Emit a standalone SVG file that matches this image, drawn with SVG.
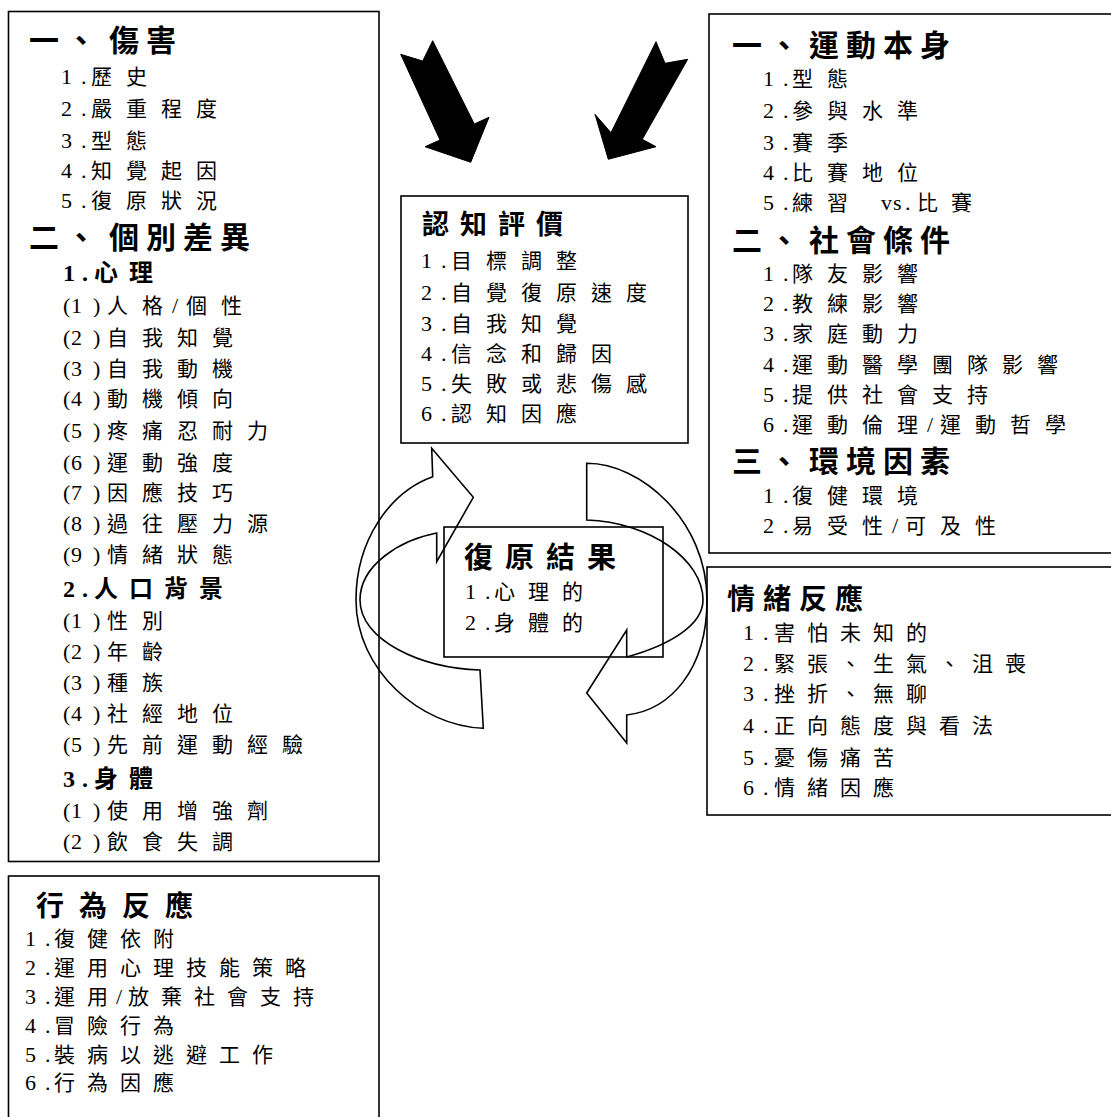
<svg xmlns="http://www.w3.org/2000/svg" width="1111" height="1117" viewBox="0 0 1111 1117">
<style>
.box{fill:#fff;stroke:#000;stroke-width:1.6}
.b{font-family:"Noto Sans CJK TC","Noto Sans CJK JP",sans-serif;font-weight:bold;font-size:30px;letter-spacing:7px}
.h{font-family:"Noto Sans CJK TC","Noto Sans CJK JP",sans-serif;font-weight:bold;font-size:27px;letter-spacing:11px}
.s{font-family:"Noto Sans CJK TC","Noto Sans CJK JP",sans-serif;font-weight:bold;font-size:24px;letter-spacing:11px}
.sn{font-family:"Liberation Serif",serif;font-weight:bold;font-size:24px;letter-spacing:0}
.i{font-family:"Noto Sans CJK TC","Noto Sans CJK JP",sans-serif;font-size:21px;letter-spacing:14px}
.i2{font-family:"Noto Sans CJK TC","Noto Sans CJK JP",sans-serif;font-size:21px;letter-spacing:12px}
.n{font-family:"Liberation Serif",serif;font-size:22px;letter-spacing:0}
.z{letter-spacing:0}
.arrow{fill:#000;stroke:#000;stroke-width:1}
.cyc{fill:none;stroke:#000;stroke-width:1.6;stroke-linejoin:miter}
</style>

<g id="node-injury">
<rect class="box" x="8.5" y="11.5" width="370.5" height="850"/>
<text class="b" y="51"><tspan x="29">一、</tspan><tspan x="109">傷害</tspan></text>
<text class="i" y="84"><tspan class="n" x="61 81">1.</tspan><tspan x="91">歷史</tspan></text>
<text class="i" y="116"><tspan class="n" x="61 81">2.</tspan><tspan x="91">嚴重程度</tspan></text>
<text class="i" y="148"><tspan class="n" x="61 81">3.</tspan><tspan x="91">型態</tspan></text>
<text class="i" y="178"><tspan class="n" x="61 81">4.</tspan><tspan x="91">知覺起因</tspan></text>
<text class="i" y="208"><tspan class="n" x="61 81">5.</tspan><tspan x="91">復原狀況</tspan></text>
<text class="b" y="248"><tspan x="29">二、</tspan><tspan x="109">個別差異</tspan></text>
<text class="s" y="281"><tspan class="sn" x="63 82">1.</tspan><tspan x="94">心理</tspan></text>
<text class="i" y="313"><tspan class="n" x="63 71 93">(1)</tspan><tspan x="107">人</tspan><tspan class="z" x="142">格</tspan><tspan class="n" x="172">/</tspan><tspan x="186">個性</tspan></text>
<text class="i" y="345"><tspan class="n" x="63 71 93">(2)</tspan><tspan x="107">自我知覺</tspan></text>
<text class="i" y="376"><tspan class="n" x="63 71 93">(3)</tspan><tspan x="107">自我動機</tspan></text>
<text class="i" y="406"><tspan class="n" x="63 71 93">(4)</tspan><tspan x="107">動機傾向</tspan></text>
<text class="i" y="438"><tspan class="n" x="63 71 93">(5)</tspan><tspan x="107">疼痛忍耐力</tspan></text>
<text class="i" y="470"><tspan class="n" x="63 71 93">(6)</tspan><tspan x="107">運動強度</tspan></text>
<text class="i" y="500"><tspan class="n" x="63 71 93">(7)</tspan><tspan x="107">因應技巧</tspan></text>
<text class="i" y="531"><tspan class="n" x="63 71 93">(8)</tspan><tspan x="107">過往壓力源</tspan></text>
<text class="i" y="562"><tspan class="n" x="63 71 93">(9)</tspan><tspan x="107">情緒狀態</tspan></text>
<text class="s" y="597"><tspan class="sn" x="63 82">2.</tspan><tspan x="94">人口背景</tspan></text>
<text class="i" y="628"><tspan class="n" x="63 71 93">(1)</tspan><tspan x="107">性別</tspan></text>
<text class="i" y="659"><tspan class="n" x="63 71 93">(2)</tspan><tspan x="107">年齡</tspan></text>
<text class="i" y="690"><tspan class="n" x="63 71 93">(3)</tspan><tspan x="107">種族</tspan></text>
<text class="i" y="721"><tspan class="n" x="63 71 93">(4)</tspan><tspan x="107">社經地位</tspan></text>
<text class="i" y="752"><tspan class="n" x="63 71 93">(5)</tspan><tspan x="107">先前運動經驗</tspan></text>
<text class="s" y="787"><tspan class="sn" x="63 82">3.</tspan><tspan x="94">身體</tspan></text>
<text class="i" y="818"><tspan class="n" x="63 71 93">(1)</tspan><tspan x="107">使用增強劑</tspan></text>
<text class="i" y="849"><tspan class="n" x="63 71 93">(2)</tspan><tspan x="107">飲食失調</tspan></text>
</g>

<g id="node-behavior">
<rect class="box" x="8.5" y="876" width="370.5" height="260"/>
<text class="h" x="36" y="916" style="font-size:28px;letter-spacing:15px">行為反應</text>
<text class="i2" y="946"><tspan class="n" x="25 45">1.</tspan><tspan x="54">復健依附</tspan></text>
<text class="i2" y="975"><tspan class="n" x="25 45">2.</tspan><tspan x="54">運用心理技能策略</tspan></text>
<text class="i2" y="1004"><tspan class="n" x="25 45">3.</tspan><tspan x="54">運</tspan><tspan class="z" x="87">用</tspan><tspan class="n" x="116">/</tspan><tspan x="128">放棄社會支持</tspan></text>
<text class="i2" y="1033"><tspan class="n" x="25 45">4.</tspan><tspan x="54">冒險行為</tspan></text>
<text class="i2" y="1062"><tspan class="n" x="25 45">5.</tspan><tspan x="54">裝病以逃避工作</tspan></text>
<text class="i2" y="1090"><tspan class="n" x="25 45">6.</tspan><tspan x="54">行為因應</tspan></text>
</g>

<g id="node-sport">
<rect class="box" x="709" y="14" width="430" height="539"/>
<text class="b" y="56"><tspan x="732">一、</tspan><tspan x="809">運動本身</tspan></text>
<text class="i" y="86"><tspan class="n" x="763 783">1.</tspan><tspan x="792">型態</tspan></text>
<text class="i" y="118"><tspan class="n" x="763 783">2.</tspan><tspan x="792">參與水準</tspan></text>
<text class="i" y="150"><tspan class="n" x="763 783">3.</tspan><tspan x="792">賽季</tspan></text>
<text class="i" y="180"><tspan class="n" x="763 783">4.</tspan><tspan x="792">比賽地位</tspan></text>
<text class="i" y="210"><tspan class="n" x="763 783">5.</tspan><tspan x="792">練</tspan><tspan class="z" x="827">習</tspan><tspan class="n" x="881 893 905">vs.</tspan><tspan x="917" style="letter-spacing:13px">比賽</tspan></text>
<text class="b" y="251"><tspan x="732">二、</tspan><tspan x="809">社會條件</tspan></text>
<text class="i" y="281"><tspan class="n" x="763 783">1.</tspan><tspan x="792">隊友影響</tspan></text>
<text class="i" y="311"><tspan class="n" x="763 783">2.</tspan><tspan x="792">教練影響</tspan></text>
<text class="i" y="341"><tspan class="n" x="763 783">3.</tspan><tspan x="792">家庭動力</tspan></text>
<text class="i" y="372"><tspan class="n" x="763 783">4.</tspan><tspan x="792">運動醫學團隊影響</tspan></text>
<text class="i" y="402"><tspan class="n" x="763 783">5.</tspan><tspan x="792">提供社會支持</tspan></text>
<text class="i" y="432"><tspan class="n" x="763 783">6.</tspan><tspan x="792">運動倫</tspan><tspan class="z" x="897">理</tspan><tspan class="n" x="927">/</tspan><tspan x="940">運動哲學</tspan></text>
<text class="b" y="472"><tspan x="732">三、</tspan><tspan x="809">環境因素</tspan></text>
<text class="i" y="503"><tspan class="n" x="763 783">1.</tspan><tspan x="792">復健環境</tspan></text>
<text class="i" y="533"><tspan class="n" x="763 783">2.</tspan><tspan x="792">易受</tspan><tspan class="z" x="862">性</tspan><tspan class="n" x="892">/</tspan><tspan x="905">可及性</tspan></text>
</g>

<g id="node-emotion">
<rect class="box" x="707" y="567" width="430" height="248"/>
<text class="h" x="727" y="609" style="font-size:28px;letter-spacing:8px">情緒反應</text>
<text class="i2" y="640"><tspan class="n" x="743 763">1.</tspan><tspan x="774">害怕未知的</tspan></text>
<text class="i2" y="671"><tspan class="n" x="743 763">2.</tspan><tspan x="774">緊張、生氣、沮喪</tspan></text>
<text class="i2" y="701"><tspan class="n" x="743 763">3.</tspan><tspan x="774">挫折、無聊</tspan></text>
<text class="i2" y="733"><tspan class="n" x="743 763">4.</tspan><tspan x="774">正向態度與看法</tspan></text>
<text class="i2" y="765"><tspan class="n" x="743 763">5.</tspan><tspan x="774">憂傷痛苦</tspan></text>
<text class="i2" y="795"><tspan class="n" x="743 763">6.</tspan><tspan x="774">情緒因應</tspan></text>
</g>

<g id="node-cognitive">
<rect class="box" x="401" y="196" width="287" height="247"/>
<text class="h" x="422" y="234">認知評價</text>
<text class="i" y="268"><tspan class="n" x="421 441">1.</tspan><tspan x="451">目標調整</tspan></text>
<text class="i" y="300"><tspan class="n" x="421 441">2.</tspan><tspan x="451">自覺復原速度</tspan></text>
<text class="i" y="331"><tspan class="n" x="421 441">3.</tspan><tspan x="451">自我知覺</tspan></text>
<text class="i" y="361"><tspan class="n" x="421 441">4.</tspan><tspan x="451">信念和歸因</tspan></text>
<text class="i" y="391"><tspan class="n" x="421 441">5.</tspan><tspan x="451">失敗或悲傷感</tspan></text>
<text class="i" y="421"><tspan class="n" x="421 441">6.</tspan><tspan x="451">認知因應</tspan></text>
</g>

<g id="node-outcome">
<rect class="box" x="444" y="527" width="219" height="130" style="fill:none"/>
<text class="h" x="464" y="568" style="font-size:29px;letter-spacing:12px">復原結果</text>
<text class="i" y="599" style="letter-spacing:13px"><tspan class="n" x="465 485">1.</tspan><tspan x="494">心理的</tspan></text>
<text class="i" y="630" style="letter-spacing:13px"><tspan class="n" x="465 485">2.</tspan><tspan x="494">身體的</tspan></text>
</g>

<g id="connectors">
<path class="arrow" d="M400.7,54.3 L422.7,61 L432.7,40.7 L474.3,124 L489,117.3 L470.7,162.3 L425,146.7 L440,140 Z"/>
<path class="arrow" d="M656,41.7 L611,132.7 L595,114.3 L608.3,159.3 L656,146.7 L642.3,139.3 L687.7,59.3 L665,63.3 Z"/>
<path class="cyc" d="M432.7,476.7 L431.7,448.3 L473.3,497.3 L436.7,561.7 L436.7,533 C400,540 360,565 360,600 C360,640 420,668 480,670 L483.3,728.3 C420,726 356,670 356,600 C356,540 390,492 432.7,476.7 Z"/>
<path class="cyc" d="M586.7,463.3 C640,463 707,520 707,600 C707,670 670,710 626.7,715 L626.7,743 L586.7,693 L626.7,630 L626.7,657 C670,645 703,625 703,600 C703,560 650,522 586.7,520 Z"/>
</g>
</svg>
